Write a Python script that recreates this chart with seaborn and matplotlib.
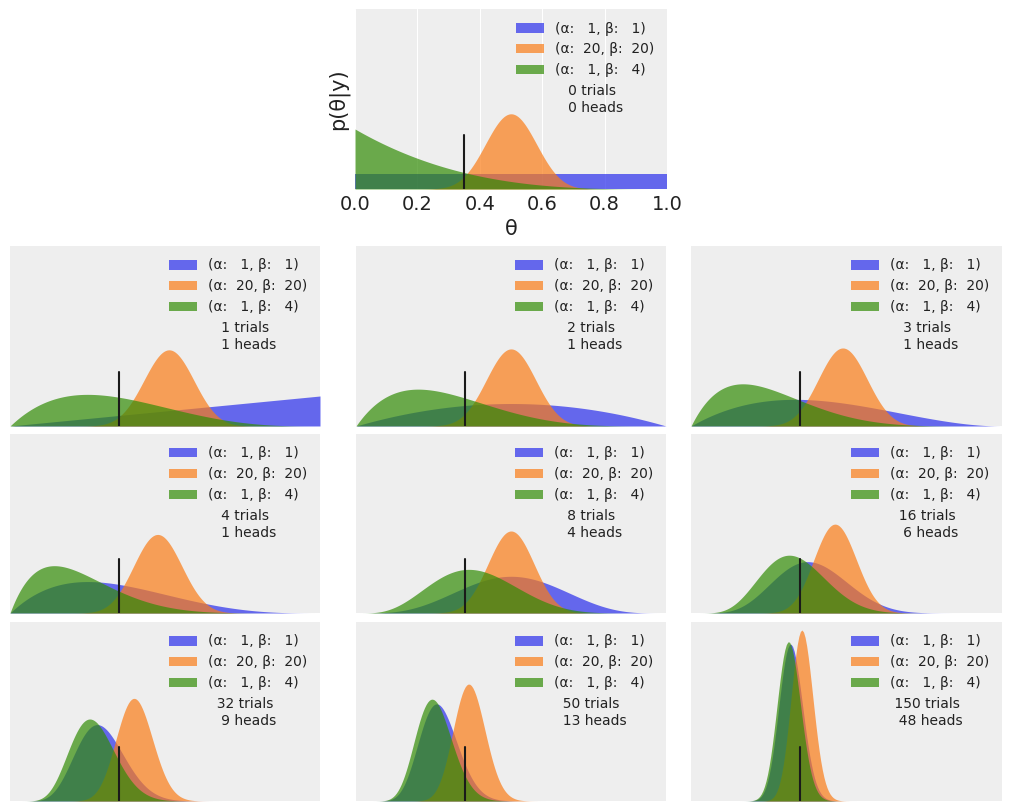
import math
import numpy as np
import matplotlib
matplotlib.use("Agg")
import matplotlib.pyplot as plt
import seaborn as sns

# ---- data ----
n_trials = [0, 1, 2, 3, 4, 8, 16, 32, 50, 150]
heads = [0, 1, 1, 1, 1, 4, 6, 9, 13, 48]
prior_alpha = [1, 20, 1]
prior_beta = [1, 20, 4]
theta_real = 0.35
colors = ["#2a2eec", "#fa7c17", "#328c06"]

sns.set_theme(style="darkgrid")
plt.rcParams.update({
    "axes.facecolor": "#eeeeee",
    "grid.color": "white",
    "grid.linewidth": 0.8,
    "text.color": "#222222",
    "xtick.color": "#222222",
    "axes.labelcolor": "#222222",
})
plt.rcParams["font.family"] = ["DejaVu Sans"]


def beta_pdf(x, a, b):
    lb = math.lgamma(a) + math.lgamma(b) - math.lgamma(a + b)
    return np.power(x, a - 1) * np.power(1 - x, b - 1) * math.exp(-lb)


W, H = 1011, 811
fig = plt.figure(figsize=(W / 100, H / 100), dpi=100)


def px_axes(x0, y0, x1, y1):
    return fig.add_axes([x0 / W, 1 - y1 / H, (x1 - x0) / W, (y1 - y0) / H])


cols = [(10, 320), (356, 666), (691, 1002)]
rows = [(246, 426), (434, 613), (622, 801)]
positions = [(355, 9, 667, 189)]
for r in rows:
    for c in cols:
        positions.append((c[0], r[0], c[1], r[1]))

x = np.linspace(0, 1, 200)
for idx, N in enumerate(n_trials):
    ax = px_axes(*positions[idx])
    y = heads[idx]
    for a0, b0, col in zip(prior_alpha, prior_beta, colors):
        p = beta_pdf(x, a0 + y, b0 + N - y)
        ax.fill_between(x, 0, p, alpha=0.7, color=col, linewidth=0,
                        label=f"(α: {a0:3d}, β: {b0:3d})")
    ax.axvline(theta_real, ymax=0.3, color="k", linewidth=1.5)
    ax.plot(0, 0, label=f"{N:4d} trials\n{y:4d} heads", alpha=0)
    ax.set_xlim(0, 1)
    ax.set_ylim(0, 12)
    ax.set_yticks([])
    for s in ax.spines.values():
        s.set_visible(False)
    ax.legend(loc="upper right", frameon=False, fontsize=10)
    if idx == 0:
        ax.set_xticks([0, 0.2, 0.4, 0.6, 0.8, 1.0])
        ax.tick_params(axis="x", labelsize=14, length=0, pad=4)
        ax.set_xlabel("θ", fontsize=15)
        ax.set_ylabel("p(θ|y)", fontsize=15)
        ax.grid(axis="y", visible=False)
    else:
        ax.set_xticks([])
        ax.grid(False)

fig.savefig("out.png", dpi=100)
